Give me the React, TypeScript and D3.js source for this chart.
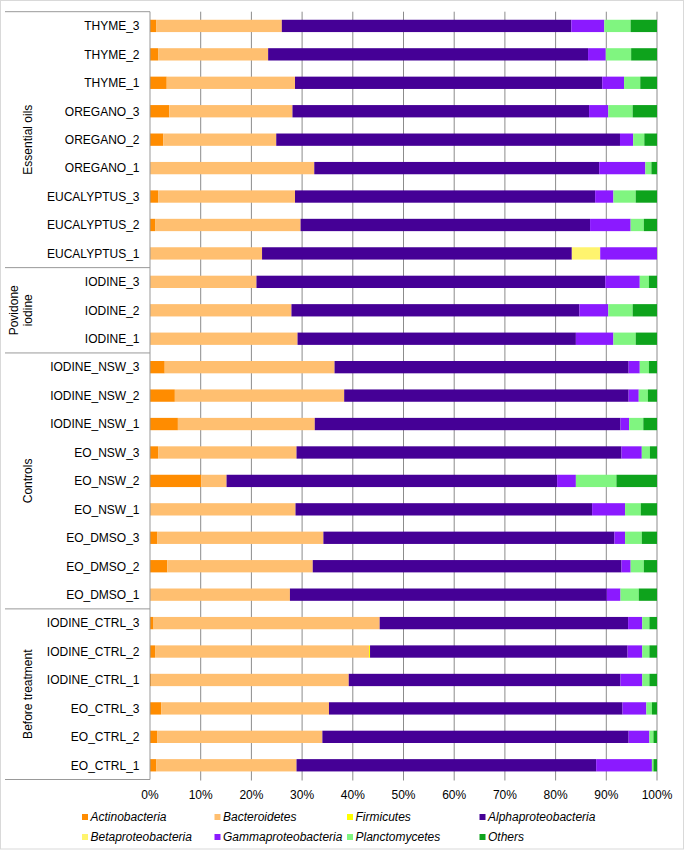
import React from "react";
import * as d3 from "d3";

const samples = [
  "THYME_3", "THYME_2", "THYME_1",
  "OREGANO_3", "OREGANO_2", "OREGANO_1",
  "EUCALYPTUS_3", "EUCALYPTUS_2", "EUCALYPTUS_1",
  "IODINE_3", "IODINE_2", "IODINE_1",
  "IODINE_NSW_3", "IODINE_NSW_2", "IODINE_NSW_1",
  "EO_NSW_3", "EO_NSW_2", "EO_NSW_1",
  "EO_DMSO_3", "EO_DMSO_2", "EO_DMSO_1",
  "IODINE_CTRL_3", "IODINE_CTRL_2", "IODINE_CTRL_1",
  "EO_CTRL_3", "EO_CTRL_2", "EO_CTRL_1",
];

const groupLabels = [["Essential oils"], ["Povidone", "iodine"], ["Controls"], ["Before treatment"]];
const groupSizes = [9, 3, 9, 6];

const seriesNames = [
  "Actinobacteria", "Bacteroidetes", "Firmicutes", "Alphaproteobacteria",
  "Betaproteobacteria", "Gammaproteobacteria", "Planctomycetes", "Others",
];
const seriesColors = ["#ff8c00", "#ffbf70", "#ffff00", "#450096", "#fff46e", "#8b1aff", "#80f580", "#0ea31c"];

const actinobacteria = [1.2, 1.6, 3.3, 3.8, 2.6, 0, 1.6, 1.0, 0, 0, 0, 0, 2.9, 4.9, 5.5, 1.6, 10.1, 0, 1.4, 3.4, 0, 0.7, 1.0, 0.3, 2.2, 1.4, 1.2];
const bacteroidetes = [24.8, 21.7, 25.3, 24.3, 22.3, 32.4, 27.0, 28.7, 22.1, 21.0, 27.9, 29.1, 33.5, 33.4, 27.0, 27.3, 5.0, 28.7, 32.8, 28.7, 27.6, 44.6, 42.2, 38.9, 33.1, 32.6, 27.7];
const firmicutes = [0, 0, 0, 0, 0, 0, 0, 0, 0, 0, 0, 0, 0, 0, 0, 0, 0, 0, 0, 0, 0, 0, 0.2, 0, 0, 0, 0];
const alphaproteobacteria = [57.1, 63.1, 60.6, 58.5, 67.8, 56.2, 59.2, 57.1, 61.1, 68.8, 56.8, 54.9, 58.0, 56.1, 60.3, 64.1, 65.2, 58.5, 57.4, 60.9, 62.5, 49.0, 50.8, 53.6, 57.9, 60.4, 59.1];
const betaproteobacteria = [0, 0, 0, 0, 0, 0, 0, 0, 5.6, 0, 0, 0, 0, 0, 0, 0, 0, 0, 0, 0, 0, 0, 0, 0, 0, 0, 0];
const gammaproteobacteria = [6.5, 3.5, 4.3, 3.8, 2.6, 9.1, 3.6, 8.0, 11.2, 6.8, 5.7, 7.4, 2.2, 2.0, 1.7, 4.0, 3.7, 6.5, 2.1, 1.8, 2.7, 2.8, 2.9, 4.3, 4.7, 4.1, 11.0];
const planctomycetes = [5.2, 5.0, 3.2, 4.8, 2.2, 1.2, 4.4, 2.6, 0, 1.8, 4.8, 4.4, 1.8, 1.8, 2.8, 1.6, 8.0, 3.1, 3.3, 2.6, 3.6, 1.4, 1.4, 1.4, 1.1, 0.8, 0.3];
const others = [5.2, 5.1, 3.3, 4.8, 2.5, 1.1, 4.2, 2.6, 0, 1.6, 4.8, 4.2, 1.6, 1.8, 2.7, 1.4, 8.0, 3.2, 3.0, 2.6, 3.6, 1.5, 1.5, 1.5, 1.0, 0.7, 0.7];

const xTicks = [0, 10, 20, 30, 40, 50, 60, 70, 80, 90, 100];

const seriesValues = [actinobacteria, bacteroidetes, firmicutes, alphaproteobacteria, betaproteobacteria, gammaproteobacteria, planctomycetes, others];

export default function App() {
  const W = 685, H = 851;
  const top = 11.7, bottom = 779.5;
  const x = d3.scaleLinear().domain([0, 100]).range([150, 657]);
  const pad = 0.567;
  const y = d3.scaleBand<string>().domain(samples).range([top, bottom]).paddingInner(pad).paddingOuter(pad / 2);
  const step = y.step();

  const rows = samples.map((s, i) => {
    const r: any = { sample: s };
    seriesNames.forEach((k, j) => { r[k] = seriesValues[j][i]; });
    return r;
  });
  const stacked = d3.stack().keys(seriesNames)(rows);

  const font = "'Liberation Sans', Arial, sans-serif";

  // group boundaries
  const bounds: number[] = [top];
  let acc = 0;
  groupSizes.forEach((n) => { acc += n; bounds.push(top + acc * step); });

  const legendCols = [82, 214.5, 347, 479.5];
  const legendRows = [817, 837];

  return (
    <svg width={W} height={H} style={{ position: "absolute", left: 0, top: 0, background: "#fff" }} fontFamily={font}>
      <rect x={0.5} y={0.5} width={683} height={848.5} fill="#fff" stroke="#d9d9d9" />
      {/* gridlines */}
      {xTicks.filter((t) => t > 0).map((t) => (
        <line key={t} x1={x(t)} x2={x(t)} y1={top} y2={bottom + 1} stroke="#8c8c8c" strokeWidth={1} />
      ))}
      {/* bars */}
      {stacked.map((layer, li) => (
        <g key={layer.key} fill={seriesColors[li]}>
          {layer.map((d, i) => {
            const w = x(d[1]) - x(d[0]);
            if (w <= 0) return null;
            return <rect key={i} x={x(d[0])} y={y(samples[i])} width={w} height={y.bandwidth()} />;
          })}
        </g>
      ))}
      {/* label box */}
      <line x1={150} x2={150} y1={top} y2={bottom} stroke="#999" />
      {bounds.map((b, i) => (
        <line key={i} x1={5} x2={150} y1={b} y2={b} stroke="#999" />
      ))}
      {samples.map((s) => (
        <text key={s} x={139.5} y={(y(s) as number) + y.bandwidth() / 2} dy="0.36em" textAnchor="end" fontSize={12} fill="#000">{s}</text>
      ))}
      {groupLabels.map((lines, gi) => {
        const cy = (bounds[gi] + bounds[gi + 1]) / 2;
        const baseX = 28;
        return (
          <g key={gi}>
            {lines.map((ln, li) => {
              const cx = baseX - (lines.length - 1 - li) * 14.5;
              return (
                <text key={li} transform={`translate(${cx},${cy}) rotate(-90)`} dy="0.36em" textAnchor="middle" fontSize={12} fill="#000">{ln}</text>
              );
            })}
          </g>
        );
      })}
      {/* x tick labels */}
      {xTicks.map((t) => (
        <text key={t} x={x(t)} y={794.5} dy="0.36em" textAnchor="middle" fontSize={12} fill="#000">{t + "%"}</text>
      ))}
      {/* legend: row-major order, 4 columns */}
      {seriesNames.map((n, i) => {
        const cx = legendCols[i % 4];
        const cy = legendRows[Math.floor(i / 4)];
        return (
          <g key={n}>
            <rect x={cx} y={cy - 3} width={6} height={6} fill={seriesColors[i]} />
            <text x={cx + 8.5} y={cy} dy="0.36em" fontSize={12} fontStyle="italic" fill="#000">{n}</text>
          </g>
        );
      })}
    </svg>
  );
}
